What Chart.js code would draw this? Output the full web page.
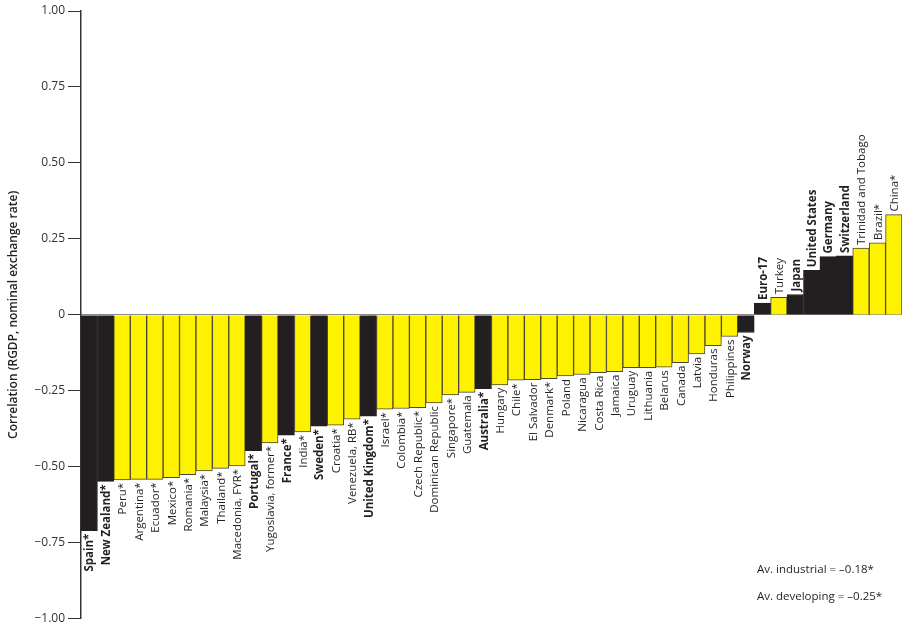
<!DOCTYPE html>
<html>
<head>
<meta charset="utf-8">
<script src="https://cdn.jsdelivr.net/npm/chart.js@4"></script>
<style>
  html, body { margin: 0; padding: 0; background: #fff; }
  canvas { display: block; }
</style>
</head>
<body>
<canvas id="chart" width="902" height="629"></canvas>
<script>
// ── Data ───────────────────────────────────────────────────────────
const COUNTRIES = [
  'Spain*', 'New Zealand*', 'Peru*', 'Argentina*', 'Ecuador*', 'Mexico*', 'Romania*',
  'Malaysia*', 'Thailand*', 'Macedonia, FYR*', 'Portugal*', 'Yugoslavia, former*',
  'France*', 'India*', 'Sweden*', 'Croatia*', 'Venezuela, RB*', 'United Kingdom*',
  'Israel*', 'Colombia*', 'Czech Republic*', 'Dominican Republic', 'Singapore*',
  'Guatemala', 'Australia*', 'Hungary', 'Chile*', 'El Salvador', 'Denmark*', 'Poland',
  'Nicaragua', 'Costa Rica', 'Jamaica', 'Uruguay', 'Lithuania', 'Belarus', 'Canada',
  'Latvia', 'Honduras', 'Philippines', 'Norway', 'Euro-17', 'Turkey', 'Japan',
  'United States', 'Germany', 'Switzerland', 'Trinidad and Tobago', 'Brazil*', 'China*'
];

const CORRELATION = [
  -0.71, -0.548, -0.543, -0.541, -0.541, -0.536, -0.526,
  -0.513, -0.505, -0.497, -0.447, -0.421,
  -0.396, -0.385, -0.366, -0.363, -0.343, -0.333,
  -0.310, -0.308, -0.305, -0.290, -0.263,
  -0.255, -0.243, -0.230, -0.215, -0.213, -0.210, -0.201,
  -0.196, -0.190, -0.187, -0.174, -0.174, -0.172, -0.157,
  -0.128, -0.101, -0.071, -0.058, 0.039, 0.058, 0.067,
  0.147, 0.192, 0.194, 0.220, 0.237, 0.330
];

// 1 = industrial (black, bold label), 0 = developing (yellow)
const INDUSTRIAL = [
  1, 1, 0, 0, 0, 0, 0,
  0, 0, 0, 1, 0,
  1, 0, 1, 0, 0, 1,
  0, 0, 0, 0, 0,
  0, 1, 0, 0, 0, 0, 0,
  0, 0, 0, 0, 0, 0, 0,
  0, 0, 0, 1, 1, 0, 1,
  1, 1, 1, 0, 0, 0
];

const Y_TICKS  = [1, 0.75, 0.5, 0.25, 0, -0.25, -0.5, -0.75, -1];
const Y_LABELS = ['1.00', '0.75', '0.50', '0.25', '0', '\u22120.25', '\u22120.50', '\u22120.75', '\u22121.00'];

const NOTES = ['Av. industrial = \u20130.18*', 'Av. developing = \u20130.25*'];

// ── Style ──────────────────────────────────────────────────────────
const BLACK  = '#231f20';
const YELLOW = '#fff200';
const FONT   = "'Open Sans', sans-serif";

Chart.defaults.font.family = FONT;
Chart.defaults.color = '#231f20';

// Rotated country labels at each bar end + averages note
const barLabels = {
  id: 'barLabels',
  afterDatasetsDraw(chart) {
    const ctx = chart.ctx;
    const meta = chart.getDatasetMeta(0);
    ctx.save();
    ctx.fillStyle = '#231f20';
    ctx.textBaseline = 'middle';
    meta.data.forEach((bar, i) => {
      const v = CORRELATION[i];
      ctx.font = (INDUSTRIAL[i] ? 'bold ' : '') + '11.5px ' + FONT;
      ctx.save();
      ctx.translate(bar.x + 1, v < 0 ? bar.y + 3 : bar.y - 3);
      ctx.rotate(-Math.PI / 2);
      ctx.textAlign = v < 0 ? 'right' : 'left';
      ctx.fillText(COUNTRIES[i], 0, 0);
      ctx.restore();
    });
    const area = chart.chartArea;
    ctx.font = '11.5px ' + FONT;
    ctx.textAlign = 'left';
    ctx.fillText(NOTES[0], area.right - 145, area.bottom - 49);
    ctx.fillText(NOTES[1], area.right - 145, area.bottom - 22);
    ctx.restore();
  }
};

new Chart(document.getElementById('chart'), {
  type: 'bar',
  data: {
    labels: COUNTRIES,
    datasets: [{
      data: CORRELATION,
      backgroundColor: INDUSTRIAL.map(f => f ? BLACK : YELLOW),
      borderColor: INDUSTRIAL.map(f => f ? BLACK : '#4a4632'),
      borderWidth: 1,
      borderSkipped: 'start',
      categoryPercentage: 1,
      barPercentage: 1,
    }]
  },
  options: {
    responsive: false,
    animation: false,
    layout: { padding: { top: 11, bottom: 8, left: 0, right: 0 } },
    plugins: { legend: { display: false }, tooltip: { enabled: false } },
    scales: {
      x: { display: false },
      y: {
        min: -1,
        max: 1,
        afterBuildTicks: scale => { scale.ticks = Y_TICKS.map(v => ({ value: v })); },
        afterFit: scale => { scale.width = 81; },
        ticks: {
          callback: v => Y_LABELS[Y_TICKS.indexOf(v)],
          color: '#333',
          font: { size: 12 },
          padding: 3,
        },
        grid: {
          color: c => (c.tick && c.tick.value === 0) ? '#888' : 'rgba(0,0,0,0)',
          tickColor: '#333',
          tickLength: 13,
          lineWidth: 1,
        },
        border: { color: '#333', width: 1.5 },
        title: {
          display: true,
          text: 'Correlation (RGDP, nominal exchange rate)',
          color: '#231f20',
          font: { size: 12, weight: '600' },
          padding: { top: 6, bottom: 0 },
        },
      }
    }
  },
  plugins: [barLabels]
});
</script>
</body>
</html>
